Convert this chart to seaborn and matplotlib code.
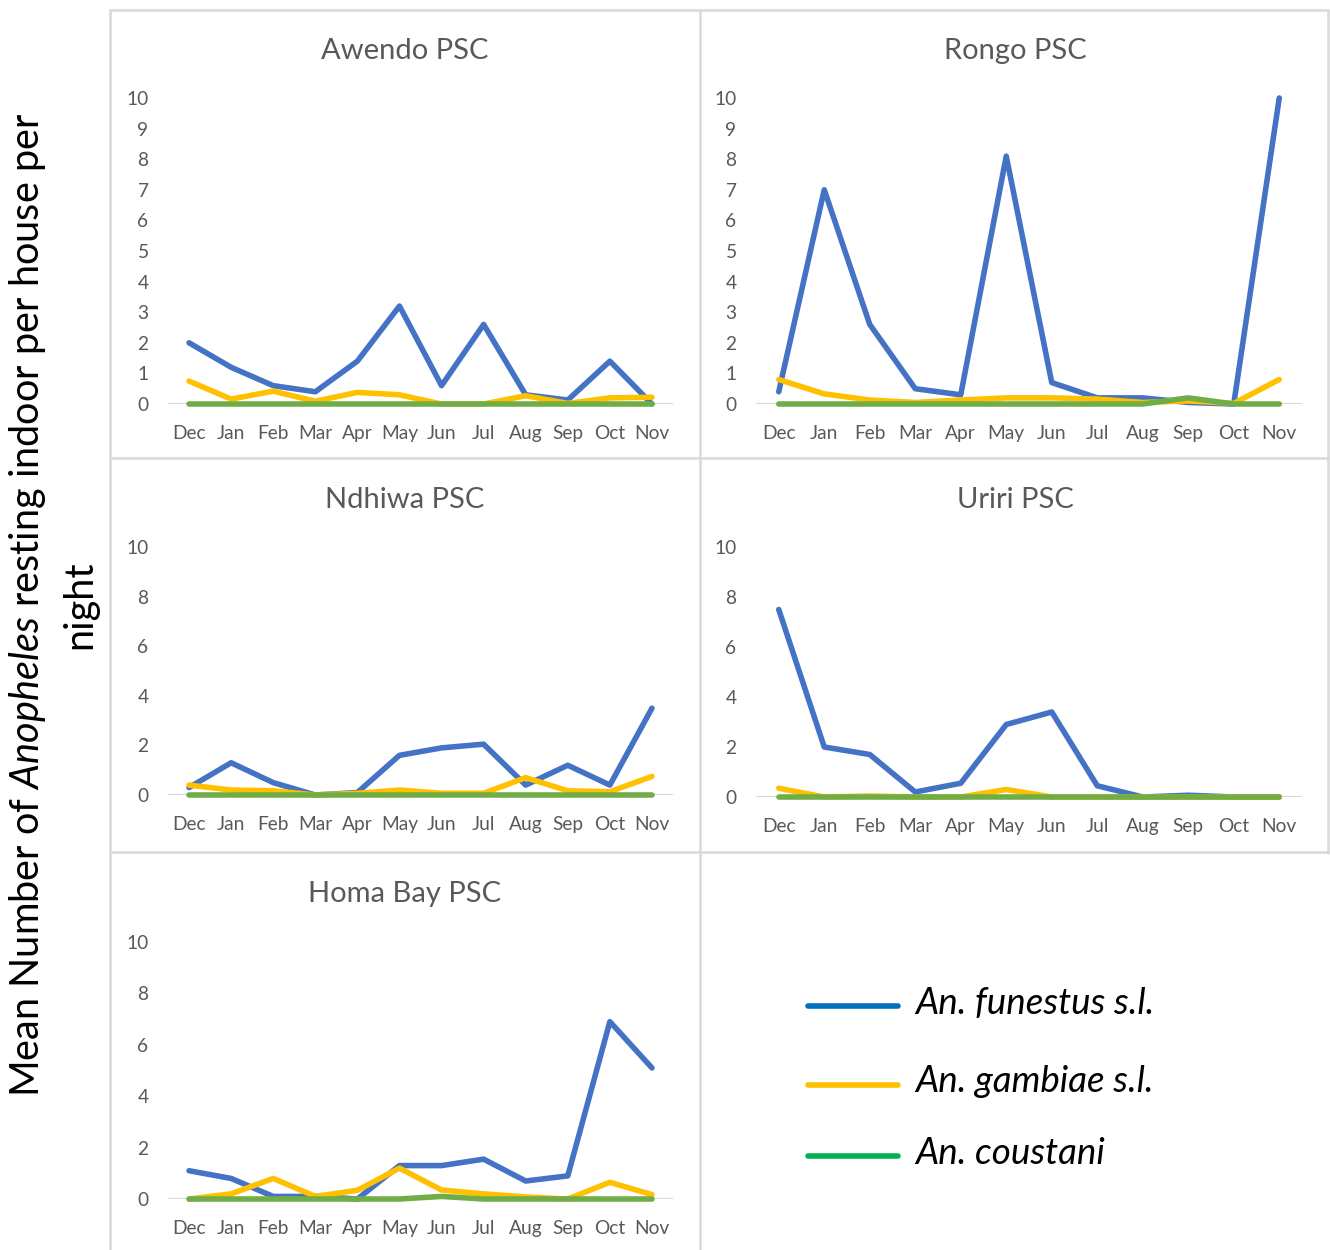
import matplotlib
matplotlib.use("Agg")
import matplotlib.pyplot as plt
from matplotlib.lines import Line2D
import numpy as np
import pandas as pd
import seaborn as sns

sns.set_style("white")
plt.rcParams["font.family"] = ["Lato", "DejaVu Sans"]
plt.rcParams["mathtext.fontset"] = "custom"
plt.rcParams["mathtext.rm"] = "Lato"
plt.rcParams["mathtext.it"] = "Lato:italic"

months = ["Dec", "Jan", "Feb", "Mar", "Apr", "May", "Jun", "Jul", "Aug", "Sep", "Oct", "Nov"]
species = ["An. funestus s.l.", "An. gambiae s.l.", "An. coustani"]

awendo_funestus = [2.0, 1.2, 0.6, 0.4, 1.4, 3.2, 0.6, 2.6, 0.3, 0.13, 1.4, 0.0]
awendo_gambiae = [0.75, 0.16, 0.42, 0.09, 0.38, 0.3, 0.0, 0.0, 0.27, 0.02, 0.2, 0.22]
awendo_coustani = [0.0] * 12

rongo_funestus = [0.4, 7.0, 2.6, 0.5, 0.3, 8.1, 0.7, 0.2, 0.2, 0.05, 0.0, 10.0]
rongo_gambiae = [0.8, 0.33, 0.13, 0.05, 0.13, 0.2, 0.2, 0.16, 0.05, 0.1, 0.02, 0.8]
rongo_coustani = [0.0, 0.0, 0.0, 0.0, 0.0, 0.0, 0.0, 0.0, 0.0, 0.2, 0.0, 0.0]

ndhiwa_funestus = [0.3, 1.3, 0.5, 0.0, 0.1, 1.6, 1.9, 2.05, 0.4, 1.2, 0.4, 3.5]
ndhiwa_gambiae = [0.4, 0.2, 0.17, 0.0, 0.07, 0.2, 0.07, 0.07, 0.7, 0.17, 0.13, 0.75]
ndhiwa_coustani = [0.0] * 12

uriri_funestus = [7.5, 2.0, 1.7, 0.2, 0.55, 2.9, 3.4, 0.45, 0.0, 0.07, 0.0, 0.0]
uriri_gambiae = [0.35, 0.0, 0.04, 0.0, 0.0, 0.3, 0.0, 0.0, 0.0, 0.0, 0.0, 0.0]
uriri_coustani = [0.0] * 12

homabay_funestus = [1.1, 0.8, 0.1, 0.1, 0.0, 1.3, 1.3, 1.55, 0.7, 0.9, 6.9, 5.1]
homabay_gambiae = [0.0, 0.2, 0.8, 0.1, 0.34, 1.2, 0.35, 0.2, 0.08, 0.0, 0.65, 0.17]
homabay_coustani = [0.0, 0.0, 0.0, 0.0, 0.0, 0.0, 0.1, 0.0, 0.0, 0.0, 0.0, 0.0]

sites = {
    "Awendo PSC": (awendo_funestus, awendo_gambiae, awendo_coustani),
    "Rongo PSC": (rongo_funestus, rongo_gambiae, rongo_coustani),
    "Ndhiwa PSC": (ndhiwa_funestus, ndhiwa_gambiae, ndhiwa_coustani),
    "Uriri PSC": (uriri_funestus, uriri_gambiae, uriri_coustani),
    "Homa Bay PSC": (homabay_funestus, homabay_gambiae, homabay_coustani),
}

line_colors = {"An. funestus s.l.": "#4472C4", "An. gambiae s.l.": "#FFC000", "An. coustani": "#70AD47"}
legend_colors = ["#0070C0", "#FFC000", "#00B050"]

W, H = 1330, 1250
fig = plt.figure(figsize=(W / 100, H / 100), dpi=100)


def px_rect(left, right, top, bottom):
    return [left / W, 1 - bottom / H, (right - left) / W, (bottom - top) / H]


# panel geometry: (axes box in px, y tick step, title centre x, title centre y)
layout = {
    "Awendo PSC": ((168, 673, 98, 404), 1, 405, 51),
    "Rongo PSC": ((756, 1302, 98, 404), 1, 1015, 51),
    "Ndhiwa PSC": ((168, 673, 547, 795), 2, 405, 500),
    "Uriri PSC": ((756, 1302, 547, 797), 2, 1015, 500),
    "Homa Bay PSC": ((168, 673, 942, 1199), 2, 405, 894),
}

gray = "#595959"
for name, series in sites.items():
    (l, r, t, b), step, tx, ty = layout[name]
    ax = fig.add_axes(px_rect(l, r, t, b))
    df = pd.DataFrame({
        "month": np.tile(np.arange(12), 3),
        "value": np.concatenate(series),
        "species": np.repeat(species, 12),
    })
    ax.axhline(0, color="#D9D9D9", lw=1.6, zorder=1)
    sns.lineplot(data=df, x="month", y="value", hue="species", hue_order=species,
                 palette=line_colors, lw=4.0, legend=False, ax=ax, sort=False,
                 clip_on=False, solid_capstyle="round", solid_joinstyle="round", zorder=3)
    ax.set_xlim(-0.5, 11.5)
    ax.set_ylim(0, 10)
    ax.set_xticks(range(12))
    ax.set_xticklabels(months)
    ax.set_yticks(np.arange(0, 10.1, step))
    ax.set_yticklabels([str(int(v)) for v in np.arange(0, 10.1, step)])
    ax.tick_params(axis="both", length=0, labelsize=13.8, colors=gray)
    ax.tick_params(axis="y", pad=14)
    ax.tick_params(axis="x", pad=15)
    ax.set_xlabel("")
    ax.set_ylabel("")
    for s in ax.spines.values():
        s.set_visible(False)
    ax.patch.set_alpha(0)
    fig.text(tx / W, 1 - ty / H, name, ha="center", va="center", fontsize=21, color=gray)

# panel frames
frame = "#D9D9D9"
segments = [
    ((110, 10), (1328, 10)),
    ((110, 10), (110, 1250)),
    ((700, 10), (700, 1250)),
    ((1328, 10), (1328, 853)),
    ((110, 458), (1328, 458)),
    ((110, 852), (1328, 852)),
]
for (x0, y0), (x1, y1) in segments:
    fig.add_artist(Line2D([x0 / W, x1 / W], [1 - y0 / H, 1 - y1 / H],
                          transform=fig.transFigure, color=frame, lw=1.8))

# legend
legend_y = [1006, 1085, 1156]
for label, color, y in zip(species, legend_colors, legend_y):
    fig.add_artist(Line2D([808 / W, 898 / W], [1 - y / H, 1 - y / H],
                          transform=fig.transFigure, color=color, lw=4))
    fig.text(915 / W, 1 - (y - 3) / H, label, ha="left", va="center",
             fontsize=26.5, style="italic", color="black")

# shared y-axis title
fig.text(28 / W, 1 - 605 / H,
         r"Mean Number of $\it{Anopheles}$ resting indoor per house per",
         rotation=90, ha="center", va="center", fontsize=28.5, color="black")
fig.text(80 / W, 1 - 605 / H, "night", rotation=90, ha="center", va="center",
         fontsize=28.5, color="black")

fig.savefig("out.png", dpi=100, facecolor="white")
